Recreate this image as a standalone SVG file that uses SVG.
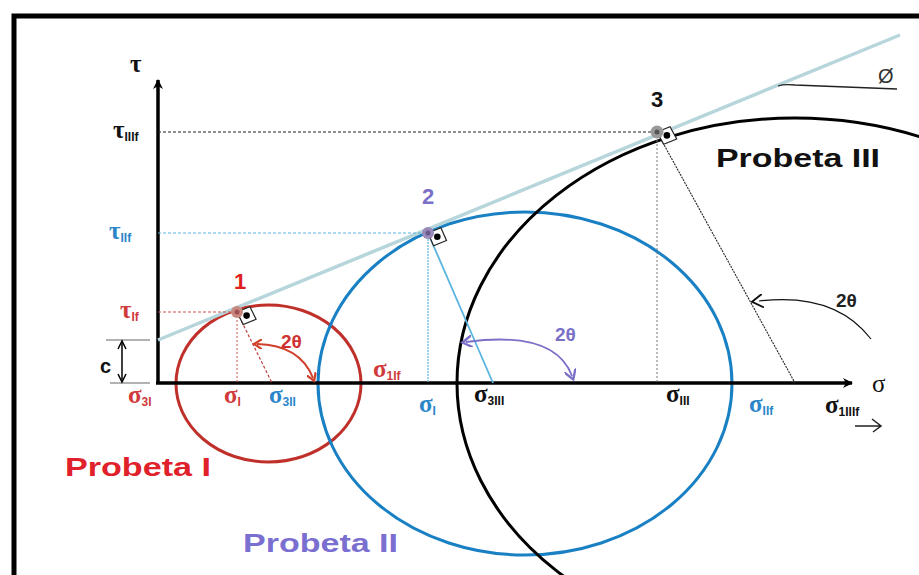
<svg xmlns="http://www.w3.org/2000/svg" width="919" height="575" viewBox="0 0 919 575">
<style>
.sg{font-family:"Liberation Serif",serif;font-size:25px}
.sb{font-family:"Liberation Sans",Arial,sans-serif;font-weight:bold;font-size:12px}
.lbl{font-family:"Liberation Sans",Arial,sans-serif;font-weight:bold}
.red{fill:#d03a3a}
.blue{fill:#2a86c8}
.pur{fill:#7a70c8}
.blk{fill:#111}
</style>
<defs>
<marker id="ah" viewBox="0 0 10 10" refX="9" refY="5" markerWidth="10" markerHeight="10" markerUnits="userSpaceOnUse" orient="auto-start-reverse">
<path d="M0,0 L10,5 L0,10 L3,5 z" fill="#000"/>
</marker>
<marker id="ahr" viewBox="0 0 10 10" refX="5" refY="5" markerWidth="10" markerHeight="10" markerUnits="userSpaceOnUse" orient="auto-start-reverse">
<path d="M0,0 L8,5 L0,10" fill="none" stroke="#d0402a" stroke-width="2.2"/>
</marker>
<marker id="ahp" viewBox="0 0 10 10" refX="5" refY="5" markerWidth="12" markerHeight="12" markerUnits="userSpaceOnUse" orient="auto-start-reverse">
<path d="M0,0 L8,5 L0,10" fill="none" stroke="#7a70c8" stroke-width="2"/>
</marker>
<marker id="ahk" viewBox="0 0 10 10" refX="3" refY="5" markerWidth="14" markerHeight="14" markerUnits="userSpaceOnUse" orient="auto-start-reverse">
<path d="M0,0 L8,5 L0,10" fill="none" stroke="#111" stroke-width="1.4"/>
</marker>
</defs>
<rect width="919" height="575" fill="#fff"/>
<!-- frame -->
<path d="M14,575 V16 H919" fill="none" stroke="#000" stroke-width="5"/>

<g id="circles">
<ellipse id="circle-I" cx="268.5" cy="383.5" rx="92.5" ry="78.5" fill="none" stroke="#c0302a" stroke-width="3"/>
<ellipse id="circle-II" cx="525" cy="383.5" rx="207" ry="171.5" fill="none" stroke="#1a80c4" stroke-width="3"/>
<ellipse id="circle-III" cx="795" cy="383" rx="338" ry="265" fill="none" stroke="#000" stroke-width="3"/>
</g>

<g id="connectors">
<!-- axes -->
<line x1="158" y1="383" x2="158" y2="80" stroke="#000" stroke-width="3.5" marker-end="url(#ah)"/>
<line x1="156" y1="383" x2="852" y2="383" stroke="#000" stroke-width="3.5" marker-end="url(#ah)"/>
<!-- envelope -->
<line x1="158" y1="340" x2="900" y2="35" stroke="#b7d6db" stroke-width="3.5"/>
<!-- phi reference -->
<path d="M778,86 Q784,84 795,85 L897,89" fill="none" stroke="#222" stroke-width="1.3"/>
<!-- c dimension -->
<line x1="106" y1="340" x2="150" y2="340" stroke="#999" stroke-width="1.5"/>
<line x1="110" y1="383" x2="150" y2="383" stroke="#999" stroke-width="1.5"/>
<line x1="122" y1="343" x2="122" y2="380" stroke="#000" stroke-width="1.5"/>
<path d="M118,349 L122,341 L126,349 M118,374 L122,382 L126,374" fill="none" stroke="#000" stroke-width="1.5"/>
<!-- projections -->
<line x1="158" y1="312" x2="237" y2="312" stroke="#d05050" stroke-width="1" stroke-dasharray="3,2"/>
<line x1="237" y1="312" x2="237" y2="383" stroke="#d05050" stroke-width="1" stroke-dasharray="2,2"/>
<line x1="158" y1="233" x2="428" y2="233" stroke="#5ab4e0" stroke-width="1" stroke-dasharray="3,2"/>
<line x1="428" y1="233" x2="428" y2="383" stroke="#5ab4e0" stroke-width="1.2" stroke-dasharray="2,1"/>
<line x1="158" y1="132" x2="657" y2="132" stroke="#222" stroke-width="1" stroke-dasharray="3,2"/>
<line x1="657" y1="132" x2="657" y2="383" stroke="#777" stroke-width="1" stroke-dasharray="2,2"/>
<!-- radius lines -->
<line x1="237" y1="312" x2="272" y2="383" stroke="#c04040" stroke-width="1.2" stroke-dasharray="3,2"/>
<line x1="428" y1="233" x2="493" y2="383" stroke="#5ab4e0" stroke-width="1.8"/>
<line x1="657" y1="132" x2="795" y2="383" stroke="#222" stroke-width="1.1" stroke-dasharray="2,1"/>
<!-- 2theta arcs -->
<path d="M257,344 Q300,345 313,378" fill="none" stroke="#d0402a" stroke-width="2" marker-start="url(#ahr)" marker-end="url(#ahr)"/>
<path d="M466,342 Q555,330 572,376" fill="none" stroke="#7a70c8" stroke-width="1.8" marker-start="url(#ahp)" marker-end="url(#ahp)"/>
<path d="M759,301 Q835,292 871,339" fill="none" stroke="#111" stroke-width="1.2" marker-start="url(#ahk)"/>
<!-- small arrow under sigma1IIIf -->
<path d="M855,426 H880 M872,419 L881,426 L873,432" fill="none" stroke="#222" stroke-width="1.5"/>
</g>

<g id="point-1">
<polygon points="237,312 243.2,324.6 256.1,319.3 249.9,306.7" fill="#fff" stroke="#222" stroke-width="1.2"/>
<circle cx="237" cy="312" r="6" fill="#c88a80"/>
<circle cx="237" cy="312" r="2.5" fill="#a05050"/>
<circle cx="246.6" cy="315.6" r="3.3" fill="#000"/>
<text x="240" y="289" class="lbl" font-size="22" fill="#e02020" text-anchor="middle">1</text>
</g>
<g id="point-2">
<polygon points="428,233 433.6,245.8 446.5,240.5 440.9,227.7" fill="#fff" stroke="#222" stroke-width="1.2"/>
<circle cx="428" cy="233" r="6" fill="#9a8ab8"/>
<circle cx="428" cy="233" r="2.5" fill="#6a5a8a"/>
<circle cx="437.3" cy="236.7" r="3.3" fill="#000"/>
<text x="428" y="204" class="lbl" font-size="22" fill="#7a70c8" text-anchor="middle">2</text>
</g>
<g id="point-3">
<polygon points="657,132 663.7,144.3 676.7,139 670,126.7" fill="#fff" stroke="#222" stroke-width="1.2"/>
<circle cx="657" cy="132" r="6.5" fill="#999"/>
<circle cx="657" cy="132" r="2.5" fill="#555"/>
<circle cx="666.9" cy="135.4" r="3.3" fill="#000"/>
<text x="657" y="107" class="lbl" font-size="22" fill="#111" text-anchor="middle">3</text>
</g>

<g id="labels">
<text x="130" y="72" class="sg blk" font-weight="bold" font-size="27">τ</text>
<text x="872" y="392" class="sg blk" font-size="30">σ</text>
<text x="878" y="83" font-family="Liberation Sans,sans-serif" font-size="20" fill="#333">Ø</text>
<text x="100" y="373" class="lbl" font-size="20" fill="#111">c</text>
<!-- tau labels -->
<text x="113" y="138" class="sg blk" font-weight="bold">τ<tspan class="sb" dy="3">IIIf</tspan></text>
<text x="109" y="239" class="sg blue" font-weight="bold">τ<tspan class="sb" dy="3">IIf</tspan></text>
<text x="120" y="318" class="sg red" font-weight="bold">τ<tspan class="sb" dy="3">If</tspan></text>
<!-- sigma labels -->
<text x="128" y="403" class="sg red" font-weight="bold">σ<tspan class="sb" dy="3">3I</tspan></text>
<text x="224" y="403" class="sg red" font-weight="bold">σ<tspan class="sb" dy="3">I</tspan></text>
<text x="269" y="403" class="sg blue" font-weight="bold">σ<tspan class="sb" dy="3">3II</tspan></text>
<text x="373" y="377" class="sg red" font-weight="bold">σ<tspan class="sb" dy="3">1If</tspan></text>
<text x="419" y="412" class="sg blue" font-weight="bold">σ<tspan class="sb" dy="3">I</tspan></text>
<text x="474" y="402" class="sg blk" font-weight="bold">σ<tspan class="sb" dy="3">3III</tspan></text>
<text x="666" y="402" class="sg blk" font-weight="bold">σ<tspan class="sb" dy="3">III</tspan></text>
<text x="749" y="412" class="sg blue" font-weight="bold">σ<tspan class="sb" dy="3">IIf</tspan></text>
<text x="825" y="413" class="sg blk" font-weight="bold">σ<tspan class="sb" dy="3">1IIIf</tspan></text>
<!-- 2theta -->
<text x="281" y="348" class="lbl" font-size="19" fill="#d03030">2θ</text>
<text x="555" y="341" class="lbl" font-size="19" fill="#7a70c8">2θ</text>
<text x="836" y="307" class="lbl" font-size="19" fill="#222">2θ</text>
<!-- probeta -->
<text x="716" y="167" class="lbl" font-size="25" fill="#111" textLength="164" lengthAdjust="spacingAndGlyphs">Probeta III</text>
<text x="65" y="476" class="lbl" font-size="25" fill="#e0202a" textLength="146" lengthAdjust="spacingAndGlyphs">Probeta I</text>
<text x="243" y="552" class="lbl" font-size="25" fill="#7a6fd0" textLength="155" lengthAdjust="spacingAndGlyphs">Probeta II</text>
</g>
</svg>
